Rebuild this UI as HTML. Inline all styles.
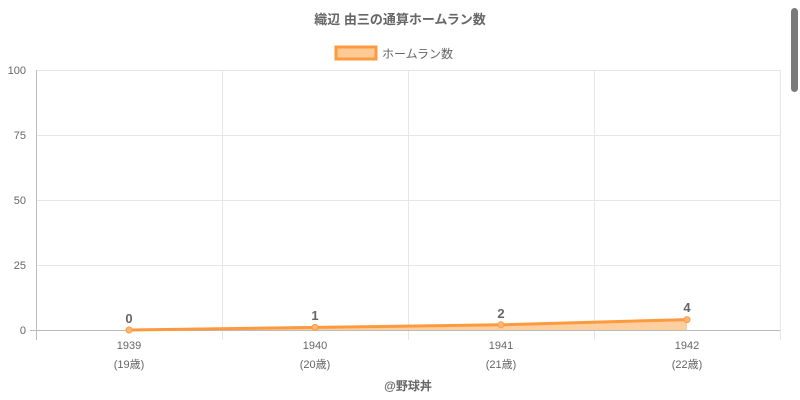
<!DOCTYPE html>
<html><head><meta charset="utf-8"><style>
html,body{margin:0;padding:0;background:#fff;width:800px;height:400px;overflow:hidden}
text{font-family:"Liberation Sans","Noto Sans CJK JP",sans-serif}
</style></head><body>
<svg width="800" height="400" xmlns="http://www.w3.org/2000/svg">
<text x="400" y="24" text-anchor="middle" font-size="13" font-weight="bold" fill="#666">織辺 由三の通算ホームラン数</text>
<rect x="336" y="47" width="40" height="12" fill="#fdc994" stroke="#fd9a3f" stroke-width="3"/>
<text x="382" y="58" font-size="12" fill="#666">ホームラン数</text>
<g stroke="#e6e6e6" stroke-width="1">
<line x1="36" y1="70.5" x2="780" y2="70.5"/><line x1="36" y1="135.5" x2="780" y2="135.5"/>
<line x1="36" y1="200.5" x2="780" y2="200.5"/><line x1="36" y1="265.5" x2="780" y2="265.5"/>
<line x1="222.5" y1="70" x2="222.5" y2="340"/><line x1="408.5" y1="70" x2="408.5" y2="340"/>
<line x1="594.5" y1="70" x2="594.5" y2="340"/><line x1="780.5" y1="70" x2="780.5" y2="340"/>
</g>
<line x1="36.5" y1="70" x2="36.5" y2="340" stroke="#bbb"/>
<line x1="30" y1="330.5" x2="780" y2="330.5" stroke="#bbb"/>
<g font-size="11" fill="#666" text-anchor="end">
<text x="26" y="74">100</text><text x="26" y="139">75</text><text x="26" y="204">50</text><text x="26" y="269">25</text><text x="26" y="334">0</text>
</g>
<g font-size="11" fill="#666" text-anchor="middle">
<text x="129" y="349">1939</text><text x="129" y="368">(19歳)</text>
<text x="315" y="349">1940</text><text x="315" y="368">(20歳)</text>
<text x="501" y="349">1941</text><text x="501" y="368">(21歳)</text>
<text x="687" y="349">1942</text><text x="687" y="368">(22歳)</text>
</g>
<polygon points="129,330 315,327.4 501,324.8 687,319.6 687,330 129,330" fill="#fdc994" opacity="0.9"/>
<polyline points="129,330 315,327.4 501,324.8 687,319.6" fill="none" stroke="#fd9a3f" stroke-width="3"/>
<g fill="#fdb877" stroke="#fd9a3f"><circle cx="129" cy="330" r="3"/><circle cx="315" cy="327.4" r="3"/><circle cx="501" cy="324.8" r="3"/><circle cx="687" cy="319.6" r="3"/></g>
<g font-size="13" font-weight="bold" fill="#666" text-anchor="middle">
<text x="129" y="323">0</text><text x="315" y="320">1</text><text x="501" y="318">2</text><text x="687" y="312">4</text>
</g>
<text x="408" y="390" text-anchor="middle" font-size="12" font-weight="bold" fill="#666">@野球丼</text>
<rect x="791" y="8" width="7" height="84" rx="3.5" fill="#7a7a7a"/>
</svg>
</body></html>
